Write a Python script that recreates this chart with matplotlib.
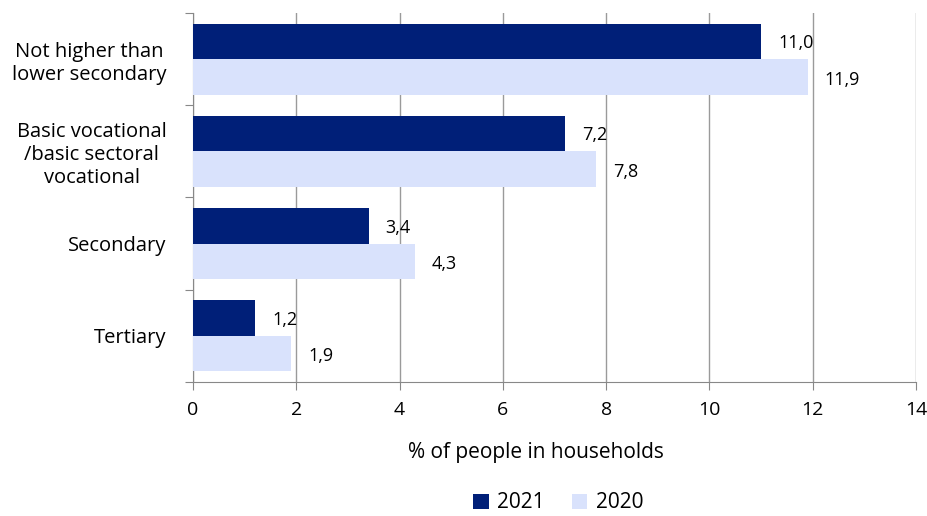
import numpy as np
import matplotlib.pyplot as plt

plt.rcParams['font.family'] = ['Open Sans', 'DejaVu Sans']

categorias = ['Not higher than\nlower secondary',
              'Basic vocational\n/basic sectoral\nvocational',
              'Secondary',
              'Tertiary']
v2021 = [11.0, 7.2, 3.4, 1.2]
v2020 = [11.9, 7.8, 4.3, 1.9]
anys = ['2021', '2020']
colors = ['#001f78', '#d9e2fc']

fig = plt.figure(figsize=(9.28, 5.16), dpi=100)
ax = fig.add_axes([193/928, 1 - 382/516, (916-193)/928, (382-13)/516])

n = len(categorias)
pos = np.arange(n)
h = 0.385
ax.barh(pos - h/2, v2021, height=h, color=colors[0], label=anys[0], zorder=3)
ax.barh(pos + h/2, v2020, height=h, color=colors[1], label=anys[1], zorder=3)

def fmt(v): return f'{v:.1f}'.replace('.', ',')

for y, v in zip(pos - h/2, v2021):
    ax.text(v + 0.33, y + 0.02, fmt(v), va='center', ha='left', fontsize=13)
for y, v in zip(pos + h/2, v2020):
    ax.text(v + 0.33, y + 0.03, fmt(v), va='center', ha='left', fontsize=13)

ax.set_ylim(n - 0.5, -0.5)
ax.set_xlim(0, 14)
ax.set_xticks(np.arange(0, 15, 2))
ax.set_yticks(np.arange(-0.5, n, 1))
ax.set_yticklabels([])
ax.set_yticks(pos, minor=True)
ax.set_yticklabels(categorias, minor=True, fontsize=14.5, ha='right', multialignment='center')
ax.tick_params(axis='y', which='minor', length=0, pad=19)
ax.tick_params(axis='y', which='major', length=6, color='#888888')
ax.tick_params(axis='x', length=6, color='#888888', labelsize=14, pad=8)

ax.grid(axis='x', color='#9a9a9a', linewidth=1, zorder=0)
for s in ['top', 'right']:
    ax.spines[s].set_visible(False)
for s in ['left', 'bottom']:
    ax.spines[s].set_color('#888888')

ax.set_xlabel('% of people in households', fontsize=15)
ax.xaxis.set_label_coords(0.474, -0.163)

fig.legend(*ax.get_legend_handles_labels(), loc='center', bbox_to_anchor=(558/928, 1 - 503/516),
           ncol=2, frameon=False, fontsize=15, handlelength=0.75, handleheight=0.75,
           handletextpad=0.4, columnspacing=1.3)

fig.savefig('out.png', dpi=100)
